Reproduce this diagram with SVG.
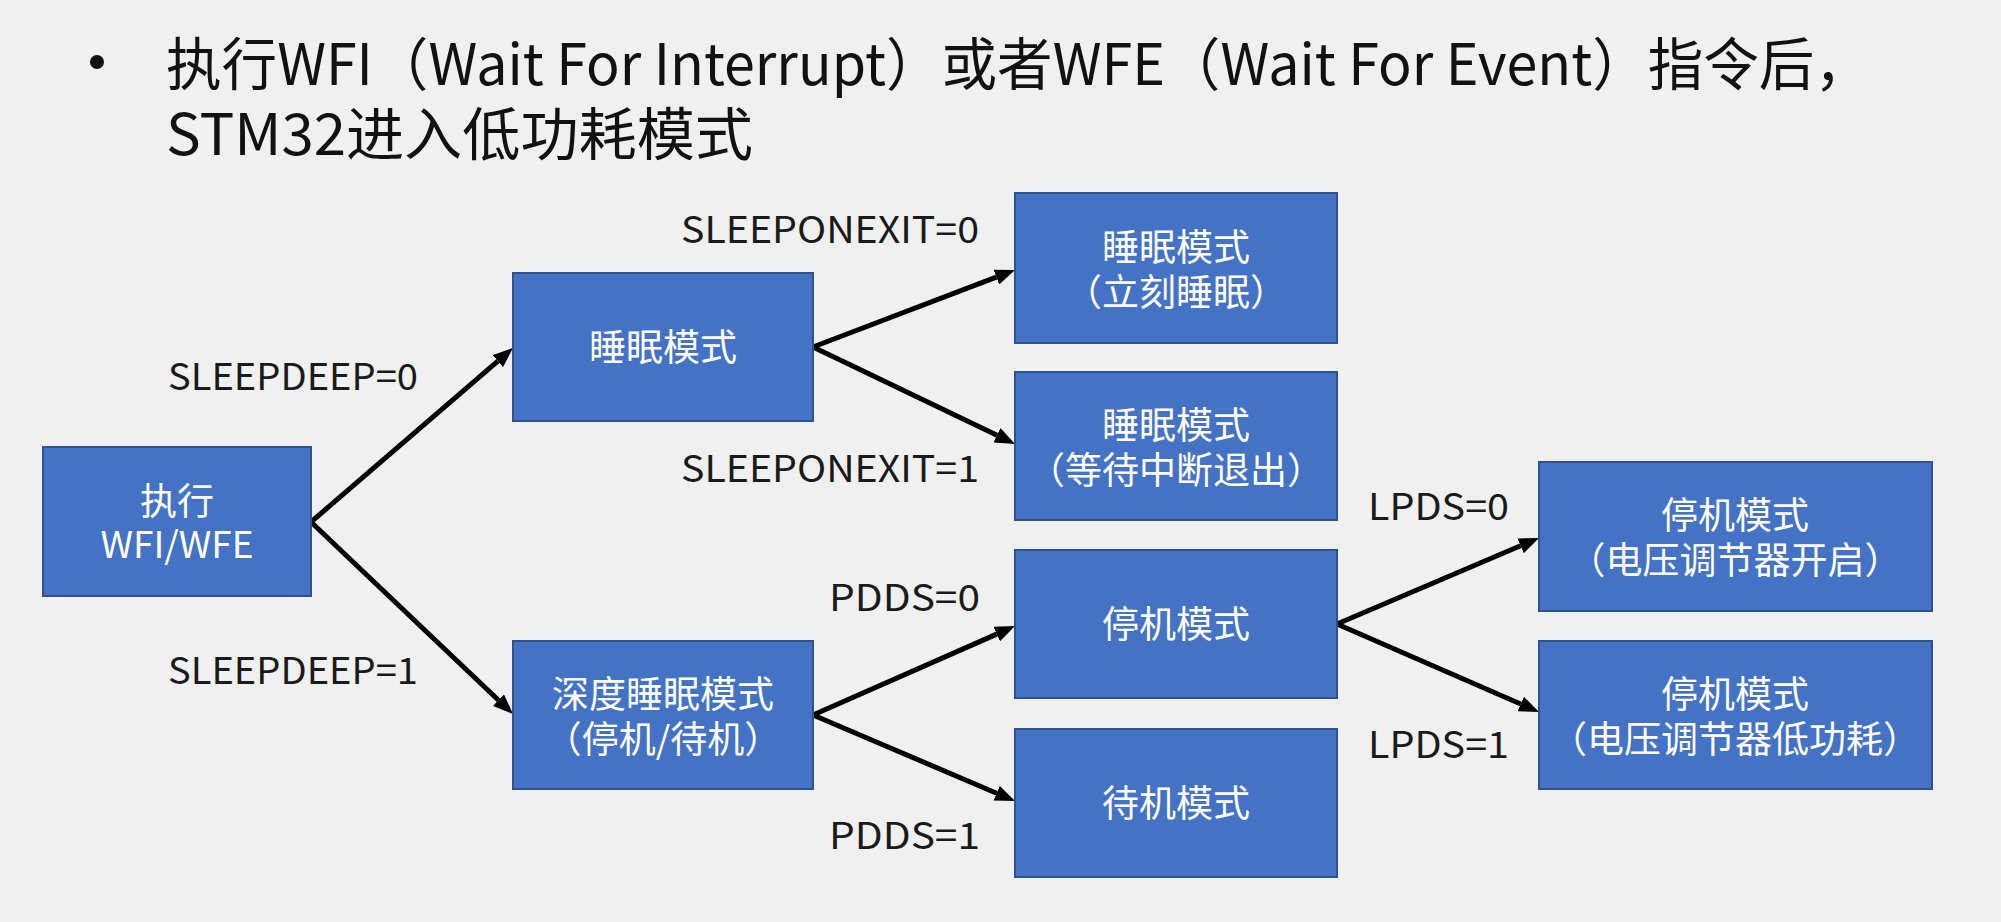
<svg xmlns="http://www.w3.org/2000/svg" width="2001" height="922" viewBox="0 0 2001 922">
<style>
.bg{fill:#f0f0f0}
.box{fill:#4472c4;stroke:#2f528f;stroke-width:2}
.bt{font-family:"Microsoft YaHei","Noto Sans CJK SC",sans-serif;font-size:37px;fill:#ffffff;text-anchor:middle}
.lb{font-family:"Microsoft YaHei","Noto Sans CJK SC",sans-serif;font-size:37px;fill:#1a1a1a}
.tt{font-family:"Microsoft YaHei","Noto Sans CJK SC",sans-serif;font-size:57px;fill:#111111}
.cn{stroke:#000000;stroke-width:5;fill:none;marker-end:url(#arr)}
</style>
<defs>
<marker id="arr" viewBox="0 0 20 16" refX="0" refY="8" markerWidth="20" markerHeight="16" markerUnits="userSpaceOnUse" orient="auto">
<path d="M0,0 L20,8 L0,16 z" fill="#000000"/>
</marker>
</defs>
<rect class="bg" x="0" y="0" width="2001" height="922"/>
<g id="title">
<circle cx="97" cy="62" r="7" fill="#111111"/>
<text class="tt" x="166" y="85" textLength="1704" lengthAdjust="spacingAndGlyphs">执行WFI（Wait For Interrupt）或者WFE（Wait For Event）指令后，</text>
<text class="tt" x="166" y="155" textLength="587" lengthAdjust="spacingAndGlyphs">STM32进入低功耗模式</text>
</g>
<g id="connectors">
<line class="cn" x1="311" y1="522" x2="497.8" y2="361.1"/>
<line class="cn" x1="311" y1="522" x2="498.5" y2="700.2"/>
<line class="cn" x1="813" y1="347" x2="996.3" y2="277.1"/>
<line class="cn" x1="813" y1="347" x2="997.0" y2="435.3"/>
<line class="cn" x1="813" y1="715" x2="996.7" y2="634.1"/>
<line class="cn" x1="813" y1="715" x2="996.6" y2="793.2"/>
<line class="cn" x1="1337" y1="624" x2="1520.6" y2="545.8"/>
<line class="cn" x1="1337" y1="624" x2="1520.7" y2="704.0"/>
</g>
<g id="labels">
<text class="lb" x="168" y="390" textLength="250" lengthAdjust="spacingAndGlyphs">SLEEPDEEP=0</text>
<text class="lb" x="168" y="684" textLength="250" lengthAdjust="spacingAndGlyphs">SLEEPDEEP=1</text>
<text class="lb" x="681" y="243" textLength="298" lengthAdjust="spacingAndGlyphs">SLEEPONEXIT=0</text>
<text class="lb" x="681" y="482" textLength="298" lengthAdjust="spacingAndGlyphs">SLEEPONEXIT=1</text>
<text class="lb" x="829" y="611" textLength="151" lengthAdjust="spacingAndGlyphs">PDDS=0</text>
<text class="lb" x="829" y="849" textLength="151" lengthAdjust="spacingAndGlyphs">PDDS=1</text>
<text class="lb" x="1368" y="520" textLength="141" lengthAdjust="spacingAndGlyphs">LPDS=0</text>
<text class="lb" x="1368" y="758" textLength="141" lengthAdjust="spacingAndGlyphs">LPDS=1</text>
</g>
<g id="node-exec">
<rect class="box" x="43" y="447" width="268" height="149"/>
<text class="bt" x="177" y="515">执行<tspan x="177" dy="43">WFI/WFE</tspan></text>
</g>
<g id="node-sleep">
<rect class="box" x="513" y="273" width="300" height="148"/>
<text class="bt" x="663" y="361">睡眠模式</text>
</g>
<g id="node-deepsleep">
<rect class="box" x="513" y="641" width="300" height="148"/>
<text class="bt" x="663" y="708">深度睡眠模式<tspan x="663" dy="45">（停机/待机）</tspan></text>
</g>
<g id="node-sleep-now">
<rect class="box" x="1015" y="193" width="322" height="150"/>
<text class="bt" x="1176" y="261">睡眠模式<tspan x="1176" dy="45">（立刻睡眠）</tspan></text>
</g>
<g id="node-sleep-on-exit">
<rect class="box" x="1015" y="372" width="322" height="148"/>
<text class="bt" x="1176" y="439">睡眠模式<tspan x="1176" dy="45">（等待中断退出）</tspan></text>
</g>
<g id="node-stop">
<rect class="box" x="1015" y="550" width="322" height="148"/>
<text class="bt" x="1176" y="638">停机模式</text>
</g>
<g id="node-standby">
<rect class="box" x="1015" y="729" width="322" height="148"/>
<text class="bt" x="1176" y="817">待机模式</text>
</g>
<g id="node-stop-reg-on">
<rect class="box" x="1539" y="462" width="393" height="149"/>
<text class="bt" x="1735" y="529">停机模式<tspan x="1735" dy="45">（电压调节器开启）</tspan></text>
</g>
<g id="node-stop-reg-lp">
<rect class="box" x="1539" y="641" width="393" height="148"/>
<text class="bt" x="1735" y="708">停机模式<tspan x="1735" dy="45">（电压调节器低功耗）</tspan></text>
</g>
</svg>
